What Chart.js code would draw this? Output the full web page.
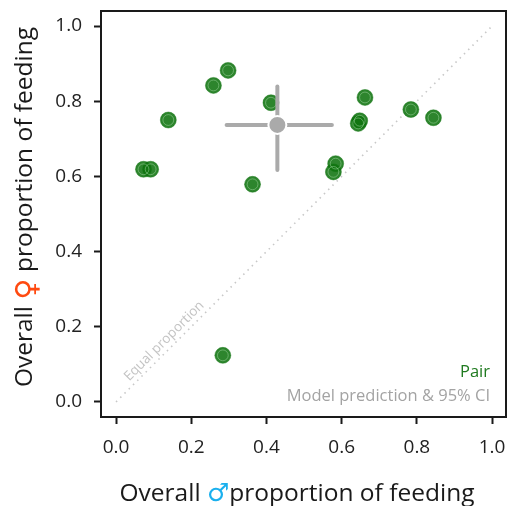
<!DOCTYPE html>
<html>
<head>
<meta charset="utf-8">
<script src="https://cdn.jsdelivr.net/npm/chart.js@4"></script>
<style>
  html, body { margin: 0; padding: 0; background: #fff; }
  #wrap { width: 508px; height: 506px; position: relative; }
</style>
</head>
<body>
<div id="wrap"><canvas id="chart"></canvas></div>
<script>
// pair values
const pairMale   = [0.073, 0.092, 0.139, 0.259, 0.298, 0.363, 0.412, 0.284, 0.584, 0.578, 0.648, 0.644, 0.662, 0.784, 0.844];
const pairFemale = [0.619, 0.619, 0.750, 0.842, 0.882, 0.579, 0.796, 0.124, 0.634, 0.612, 0.748, 0.741, 0.810, 0.778, 0.756];

// model prediction & 95% CI
const predMale = 0.429;
const predFemale = 0.737;
const ciMale = [0.294, 0.574];
const ciFemale = [0.617, 0.839];

const tickValues = [0, 0.2, 0.4, 0.6, 0.8, 1.0];
const equalLine = [0, 1];
const equalLabelAt = 0.145;

const ink = '#1a1a1a';
const green = 'rgba(14,115,14,0.87)';
const ringGreen = 'rgba(160,215,160,0.5)';
const grey = '#aaaaaa';
const baseFont = '"Open Sans", "DejaVu Sans", sans-serif';
const symFont = '"DejaVu Sans", sans-serif';

const pairs = pairMale.map((x, i) => ({ x: x, y: pairFemale[i] }));

function mixedText(ctx, parts, cx, cy, angle) {
  ctx.save();
  ctx.translate(cx, cy);
  ctx.rotate(angle);
  ctx.textBaseline = 'alphabetic';
  ctx.textAlign = 'left';
  let total = 0;
  parts.forEach(p => { ctx.font = p.font; p.w = ctx.measureText(p.text).width; total += p.w; });
  let x = -total / 2;
  parts.forEach(p => {
    ctx.font = p.font;
    ctx.fillStyle = p.color;
    ctx.fillText(p.text, x, p.dy || 0);
    x += p.w;
  });
  ctx.restore();
}

const decorPlugin = {
  id: 'decor',
  beforeDatasetsDraw(chart) {
    const ctx = chart.ctx;
    const xs = chart.scales.x, ys = chart.scales.y;
    // label along the equal-proportion line
    const px = xs.getPixelForValue(equalLabelAt);
    const py = ys.getPixelForValue(equalLabelAt);
    ctx.save();
    ctx.translate(px, py);
    ctx.rotate(-Math.PI / 4);
    ctx.font = '13.5px ' + baseFont;
    ctx.fillStyle = '#c4c4c4';
    ctx.textAlign = 'center';
    ctx.textBaseline = 'middle';
    ctx.fillText('Equal proportion', 0, -9);
    ctx.restore();
  },
  afterDraw(chart) {
    const ctx = chart.ctx;
    const a = chart.chartArea;
    // top and right part of the frame
    ctx.save();
    ctx.strokeStyle = ink;
    ctx.lineWidth = 2;
    ctx.beginPath();
    ctx.moveTo(a.left - 1, a.top);
    ctx.lineTo(a.right, a.top);
    ctx.lineTo(a.right, a.bottom + 1);
    ctx.stroke();

    // key text
    ctx.textAlign = 'right';
    ctx.textBaseline = 'middle';
    ctx.font = '16.5px ' + baseFont;
    ctx.fillStyle = '#1f7a1f';
    ctx.fillText('Pair', 490, 372);
    ctx.fillStyle = '#a3a3a3';
    ctx.fillText('Model prediction & 95% CI', 490, 396);
    ctx.restore();

    // axis titles with coloured sex symbols
    mixedText(ctx, [
      { text: 'Overall ', color: ink, font: '24.5px ' + baseFont },
      { text: '\u2642', color: '#1ab0ee', font: '25px ' + symFont },
      { text: 'proportion of feeding', color: ink, font: '24.5px ' + baseFont }
    ], 297, 501, 0);
    mixedText(ctx, [
      { text: 'Overall ', color: ink, font: '24.5px ' + baseFont },
      { text: '\u2640', color: '#ff4a10', font: '29px ' + symFont, dy: 4 },
      { text: ' proportion of feeding', color: ink, font: '24.5px ' + baseFont }
    ], 32, 207, -Math.PI / 2);
  }
};

function axis(min, max) {
  return {
    type: 'linear',
    min: min,
    max: max,
    afterBuildTicks: s => { s.ticks = tickValues.map(v => ({ value: v })); },
    ticks: {
      padding: 12,
      color: '#222',
      font: { family: baseFont, size: 19 },
      callback: v => Number(v).toFixed(1)
    },
    grid: {
      display: true,
      drawOnChartArea: false,
      drawTicks: true,
      tickLength: 7,
      tickWidth: 2,
      tickColor: ink
    },
    border: { display: true, width: 2, color: ink }
  };
}

function noPad(s) {
  s.paddingTop = s.paddingBottom = s.paddingLeft = s.paddingRight = 0;
}

const xAxis = axis(-0.04, 1.037);
xAxis.afterFit = s => { s.height = 89; noPad(s); };
const yAxis = axis(-0.04, 1.04);
yAxis.afterFit = s => { s.width = 101; noPad(s); };

new Chart(document.getElementById('chart'), {
  type: 'scatter',
  data: {
    datasets: [
      // listed top-most first
      {
        data: [{ x: predMale, y: predFemale }],
        pointRadius: 9,
        backgroundColor: grey,
        borderColor: '#ffffff',
        borderWidth: 2
      },
      {
        type: 'line',
        data: [{ x: ciMale[0], y: predFemale }, { x: ciMale[1], y: predFemale }],
        borderColor: grey,
        borderWidth: 4,
        borderCapStyle: 'round',
        pointRadius: 0
      },
      {
        type: 'line',
        data: [{ x: predMale, y: ciFemale[0] }, { x: predMale, y: ciFemale[1] }],
        borderColor: grey,
        borderWidth: 4,
        borderCapStyle: 'round',
        pointRadius: 0
      },
      {
        data: pairs,
        pointRadius: 5.4,
        backgroundColor: 'rgba(0,0,0,0)',
        borderColor: ringGreen,
        borderWidth: 1
      },
      {
        data: pairs,
        pointRadius: 8,
        backgroundColor: green,
        borderColor: green,
        borderWidth: 0.5
      },
      {
        type: 'line',
        data: equalLine.map(v => ({ x: v, y: v })),
        borderColor: '#c8c8c8',
        borderWidth: 1.6,
        borderDash: [1.5, 4.5],
        pointRadius: 0
      }
    ]
  },
  options: {
    responsive: true,
    maintainAspectRatio: false,
    animation: false,
    layout: { autoPadding: false, padding: { left: 0, top: 11, right: 2, bottom: 0 } },
    plugins: {
      legend: { display: false },
      tooltip: { enabled: false }
    },
    scales: { x: xAxis, y: yAxis }
  },
  plugins: [decorPlugin]
});
</script>
</body>
</html>
